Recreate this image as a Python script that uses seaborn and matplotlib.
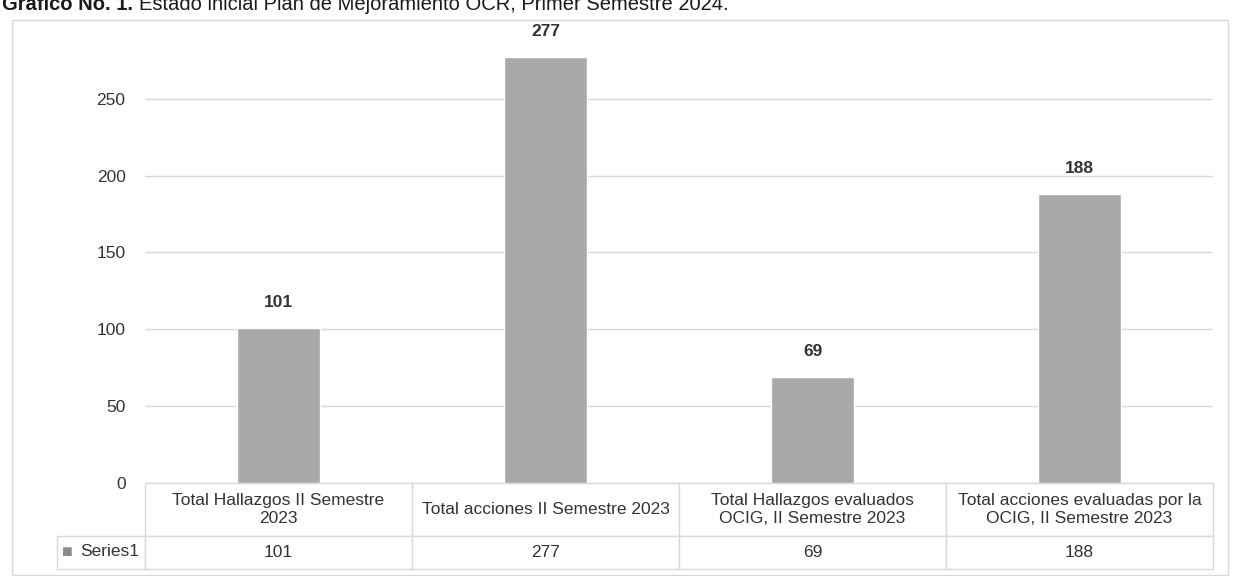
import matplotlib
matplotlib.use("Agg")
import matplotlib.pyplot as plt
import seaborn as sns
import pandas as pd
from matplotlib.patches import Rectangle

# ---- data ----
categories = [
    "Total Hallazgos II Semestre\n2023",
    "Total acciones II Semestre 2023",
    "Total Hallazgos evaluados\nOCIG, II Semestre 2023",
    "Total acciones evaluadas por la\nOCIG, II Semestre 2023",
]
values = [101, 277, 69, 188]
series_name = "Series1"
yticks = [0, 50, 100, 150, 200, 250]
title_bold = "Gráfico No. 1."
title_rest = "Estado inicial Plan de Mejoramiento OCR, Primer Semestre 2024."

sns.set_theme(style="white")
plt.rcParams["font.family"] = ["Liberation Sans", "DejaVu Sans"]

W, H = 1238, 576
fig = plt.figure(figsize=(W / 100, H / 100), dpi=100)
fig.patch.set_facecolor("white")


def fx(x):
    return x / W


def fy(y):
    return 1 - y / H


TXT = "#333333"
GRID = "#d9d9d9"
BAR = "#a9a9a9"

ax_left, ax_right = 145, 1213
y0_px = 483
ymax = 290
pxu = 1.537
ax_h = ymax * pxu
ax_w = ax_right - ax_left
ax = fig.add_axes([fx(ax_left), fy(y0_px), ax_w / W, ax_h / H])

df = pd.DataFrame({"cat": categories, "val": values})
sns.barplot(data=df, x="cat", y="val", color=BAR, saturation=1, width=0.31, ax=ax)

ax.set_ylim(0, ymax)
ax.set_xlim(-0.5, len(categories) - 0.5)
ax.set_yticks(yticks)
ax.yaxis.grid(True, color=GRID, lw=1)
ax.xaxis.grid(False)
ax.set_axisbelow(True)
for s in ax.spines.values():
    s.set_visible(False)
ax.tick_params(axis="y", length=0, pad=14, labelsize=12.5, labelcolor=TXT)
ax.tick_params(axis="x", length=0, labelbottom=False)
ax.set_xlabel("")
ax.set_ylabel("")

for cont in ax.containers:
    ax.bar_label(cont, fmt="%d", padding=13, fontweight="bold", fontsize=12.5, color=TXT)

# ---- data table (first column is the series-name cell) ----
tbl_left = 57
hdr_h, row_h = 53, 33
rl_w, col_w = ax_left - tbl_left, ax_w / len(categories)
tot_h = hdr_h + row_h
tbl = ax.table(
    cellText=[[""] + [str(v) for v in values]],
    colLabels=[""] + categories,
    cellLoc="center",
    bbox=[-rl_w / ax_w, -tot_h / ax_h, (ax_w + rl_w) / ax_w, tot_h / ax_h],
)
tbl.auto_set_font_size(False)
tbl.set_fontsize(12.5)
for (r, c), cell in tbl.get_celld().items():
    cell.set_edgecolor(GRID)
    cell.set_linewidth(1)
    cell.set_height(hdr_h if r == 0 else row_h)
    cell.set_width(rl_w if c == 0 else col_w)
    cell.get_text().set_color(TXT)
    cell.get_text().set_multialignment("center")
    if r == 0 and c == 0:
        cell.visible_edges = "open"

row_y = -(552 - y0_px) / ax_h
# legend key square and series name in the first cell
ax.text((67 - ax_left) / ax_w, row_y, "■", color="#8c8c8c",
        fontsize=13, ha="center", va="center", transform=ax.transAxes, clip_on=False)
ax.text((139 - ax_left) / ax_w, row_y, series_name, color=TXT,
        fontsize=12.5, ha="right", va="center", transform=ax.transAxes, clip_on=False)

# outer chart frame
fig.patches.append(Rectangle((fx(12), fy(575)), (1228 - 12) / W, (575 - 20) / H,
                             transform=fig.transFigure, fill=False, edgecolor=GRID, lw=1))

# title (partly cut at the top, as in the source)
t1 = fig.text(fx(2), fy(10), title_bold, fontweight="bold", fontsize=14.5, va="baseline", color="#1a1a1a")
fig.canvas.draw()
bb = t1.get_window_extent()
fig.text(bb.x1 / W + fx(6), fy(10), title_rest, fontsize=14.5, va="baseline", color="#1a1a1a")

fig.savefig("out.png", dpi=100, facecolor="white")
